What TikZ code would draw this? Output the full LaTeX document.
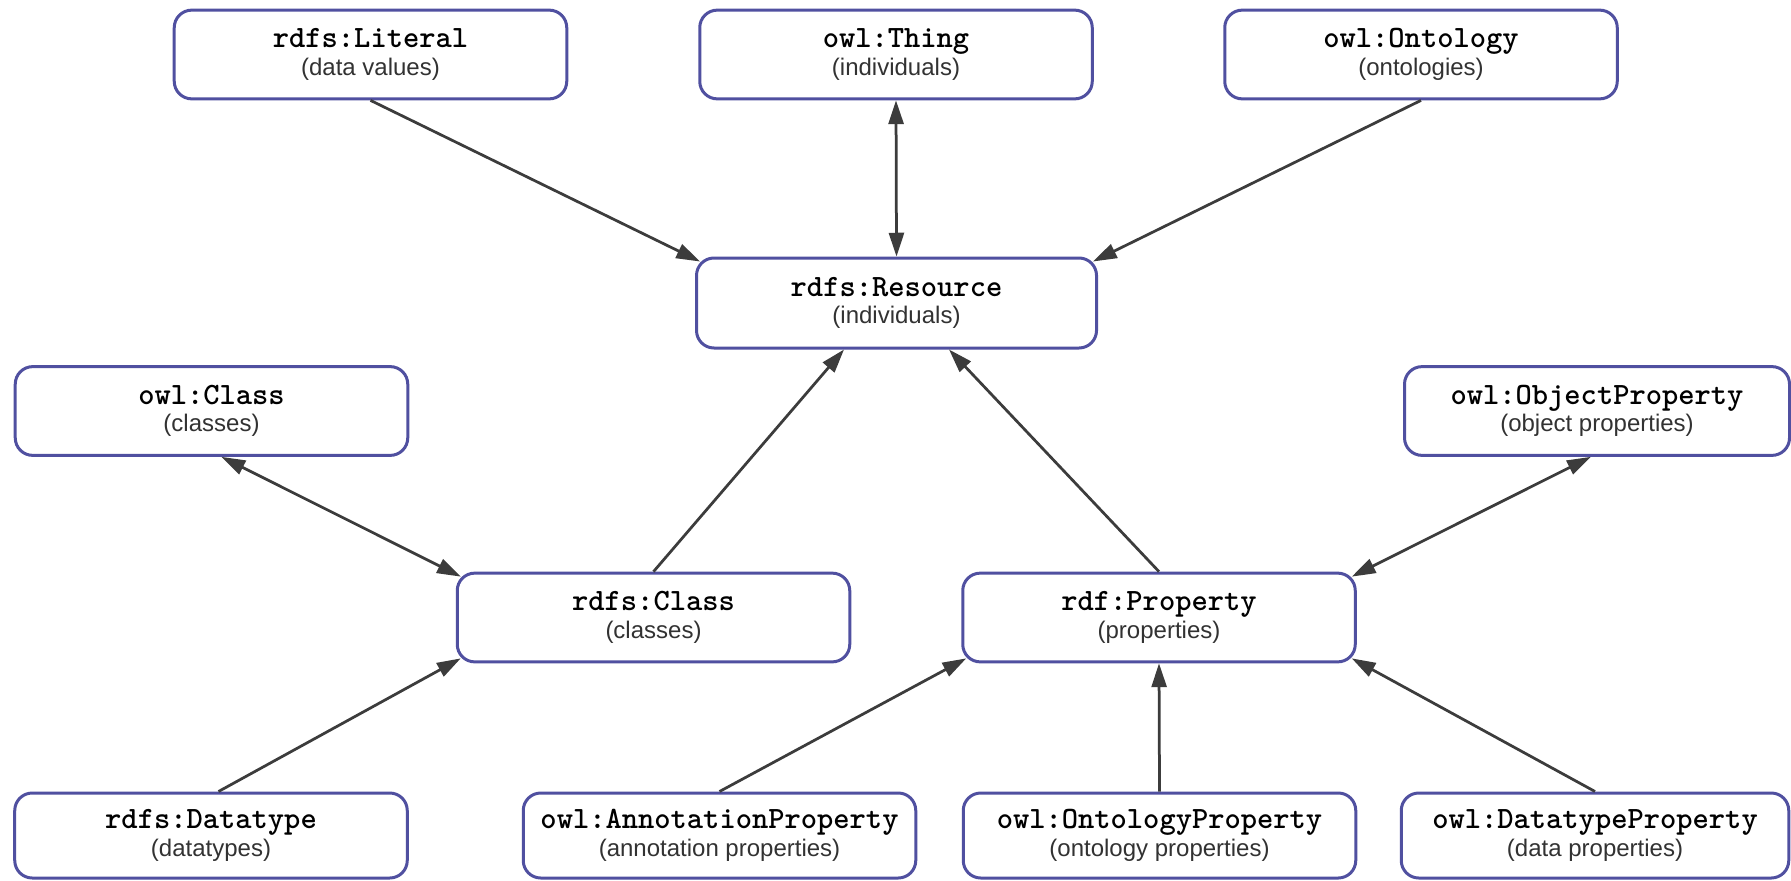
\documentclass[tikz,border=0pt]{standalone}
\usepackage{fontspec}
\setmainfont{Liberation Sans}
\usetikzlibrary{arrows.meta}
\definecolor{boxline}{RGB}{80,80,160}
\definecolor{arrowline}{RGB}{60,60,60}
\definecolor{subtext}{RGB}{50,50,50}
\newcommand{\ent}[2]{{\ttfamily\bfseries\fontsize{12.4}{12}\selectfont #1}\\[-1pt]{\color{subtext}\fontsize{9.6}{11.5}\selectfont #2}}
\tikzset{
  box/.style={draw=boxline, line width=1.2pt, rounded corners=7pt, fill=white,
    minimum width=157pt, minimum height=35.5pt, align=center, inner sep=0pt},
  link/.style={draw=arrowline, line width=1.1pt, -{Triangle[length=9.5pt,width=6pt]}},
  dlink/.style={draw=arrowline, line width=1.1pt, {Triangle[length=9.5pt,width=6pt]}-{Triangle[length=9.5pt,width=6pt]}}
}
\begin{document}
\begin{tikzpicture}[x=0.4pt,y=-0.4pt]
\useasboundingbox (0,0) rectangle (1791,880);
% top row
\node[box] (lit)   at (370.5,54.5) {\ent{rdfs:Literal}{(data values)}};
\node[box] (thing) at (896,54.5)   {\ent{owl:Thing}{(individuals)}};
\node[box] (onto)  at (1421,54.5)  {\ent{owl:Ontology}{(ontologies)}};
% resource
\node[box, minimum width=160pt, minimum height=36pt] (res) at (896.5,303) {\ent{rdfs:Resource}{(individuals)}};
% second row
\node[box] (ocls)  at (211.5,411)  {\ent{owl:Class}{(classes)}};
\node[box, minimum width=154pt] (oprop) at (1597,411) {\ent{owl:ObjectProperty}{(object properties)}};
% third row
\node[box] (rcls)  at (653.5,617.5) {\ent{rdfs:Class}{(classes)}};
\node[box] (prop)  at (1159,617.5)  {\ent{rdf:Property}{(properties)}};
% bottom row
\node[box, minimum height=34pt] (dt)    at (211,835.5)   {\ent{rdfs:Datatype}{(datatypes)}};
\node[box, minimum height=34pt] (ann)   at (719.5,835.5) {\ent{owl:AnnotationProperty}{(annotation properties)}};
\node[box, minimum height=34pt] (oprp)  at (1159.5,835.5) {\ent{owl:OntologyProperty}{(ontology properties)}};
\node[box, minimum height=34pt, minimum width=155pt] (dprop) at (1595,835.5) {\ent{owl:DatatypeProperty}{(data properties)}};
% connectors
\draw[link]  (lit.south) -- ([shift={(2pt,-2pt)}]res.north west);
\draw[dlink] (thing.south) -- (res.north);
\draw[link]  (onto.south) -- ([shift={(-2pt,-2pt)}]res.north east);
\draw[link]  (rcls.north) -- ([xshift=-21pt]res.south);
\draw[link]  (prop.north) -- ([xshift=21pt]res.south);
\draw[dlink] ([xshift=4pt]ocls.south) -- ([shift={(2pt,-2pt)}]rcls.north west);
\draw[dlink] ([xshift=-2.5pt]oprop.south) -- ([shift={(-2pt,-2pt)}]prop.north east);
\draw[link]  ([xshift=3pt]dt.north) -- ([shift={(2pt,2pt)}]rcls.south west);
\draw[link]  (ann.north) -- ([shift={(2pt,2pt)}]prop.south west);
\draw[link]  (oprp.north) -- (prop.south);
\draw[link]  (dprop.north) -- ([shift={(-2pt,2pt)}]prop.south east);
\end{tikzpicture}
\end{document}
